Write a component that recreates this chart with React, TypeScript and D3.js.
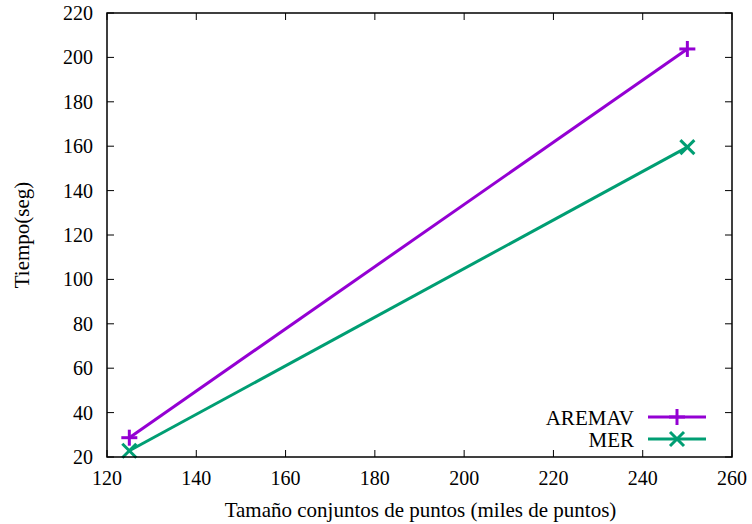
import React from "react";
import * as d3 from "d3";

const width = 752;
const height = 524;
const margin = { top: 13, right: 20, bottom: 67, left: 107 };

const xTicks = [120, 140, 160, 180, 200, 220, 240, 260];
const yTicks = [20, 40, 60, 80, 100, 120, 140, 160, 180, 200, 220];

const sizes = [125, 250];
const aremav = [28.7, 203.8];
const mer = [22.8, 159.6];

const series = [
  { name: "AREMAV", values: aremav, color: "#9400d3", marker: "plus" },
  { name: "MER", values: mer, color: "#009e73", marker: "cross" },
];

const font = "'Liberation Serif', 'Times New Roman', serif";

function Marker({ x, y, type, color }) {
  if (type === "plus") {
    const s = 8;
    return (
      <g stroke={color} strokeWidth={3}>
        <line x1={x - s} x2={x + s} y1={y} y2={y} />
        <line x1={x} x2={x} y1={y - s} y2={y + s} />
      </g>
    );
  }
  const c = 7;
  return (
    <g stroke={color} strokeWidth={3}>
      <line x1={x - c} x2={x + c} y1={y - c} y2={y + c} />
      <line x1={x - c} x2={x + c} y1={y + c} y2={y - c} />
    </g>
  );
}

export default function App() {
  const x = d3
    .scaleLinear()
    .domain([120, 260])
    .range([margin.left, width - margin.right]);
  const y = d3
    .scaleLinear()
    .domain([20, 220])
    .range([height - margin.bottom, margin.top]);

  const line = d3
    .line<number>()
    .x((_, i) => x(sizes[i]))
    .y((d) => y(d));

  const [x0, x1] = x.range();
  const [y0, y1] = y.range();
  const tick = 7;

  return (
    <svg
      width={width}
      height={height}
      style={{ position: "absolute", left: 0, top: 0, background: "#fff" }}
      fontFamily={font}
      fontSize={21}
    >
      <rect width={width} height={height} fill="#fff" />
      {/* ticks on all four sides, pointing inward */}
      <g stroke="#000" strokeWidth={1}>
        {xTicks.map((t) => (
          <g key={t}>
            <line x1={x(t)} x2={x(t)} y1={y0} y2={y0 - tick} />
            <line x1={x(t)} x2={x(t)} y1={y1} y2={y1 + tick} />
          </g>
        ))}
        {yTicks.map((t) => (
          <g key={t}>
            <line x1={x0} x2={x0 + tick} y1={y(t)} y2={y(t)} />
            <line x1={x1} x2={x1 - tick} y1={y(t)} y2={y(t)} />
          </g>
        ))}
      </g>
      {xTicks.map((t) => (
        <text key={t} x={x(t)} y={y0 + 28} textAnchor="middle" fontSize={20}>
          {t}
        </text>
      ))}
      {yTicks.map((t) => (
        <text key={t} x={x0 - 14} y={y(t) + 7} textAnchor="end" fontSize={20}>
          {t}
        </text>
      ))}

      {series.map((s) => (
        <g key={s.name}>
          <path d={line(s.values)} fill="none" stroke={s.color} strokeWidth={3} />
          {s.values.map((v, i) => (
            <Marker key={i} x={x(sizes[i])} y={y(v)} type={s.marker} color={s.color} />
          ))}
        </g>
      ))}

      {/* legend */}
      {series.map((s, i) => {
        const ly = 417 + i * 22;
        return (
          <g key={s.name}>
            <text x={634} y={ly + 8} textAnchor="end">
              {s.name}
            </text>
            <line x1={648} x2={706} y1={ly} y2={ly} stroke={s.color} strokeWidth={3} />
            <Marker x={677} y={ly} type={s.marker} color={s.color} />
          </g>
        );
      })}

      <rect
        x={x0}
        y={y1}
        width={x1 - x0}
        height={y0 - y1}
        fill="none"
        stroke="#000"
        strokeWidth={1.5}
      />

      <text x={(x0 + x1) / 2 + 1} y={517} textAnchor="middle">
        Tamaño conjuntos de puntos (miles de puntos)
      </text>
      <text
        transform={`translate(29, ${(y0 + y1) / 2}) rotate(-90)`}
        textAnchor="middle"
      >
        Tiempo(seg)
      </text>
    </svg>
  );
}
